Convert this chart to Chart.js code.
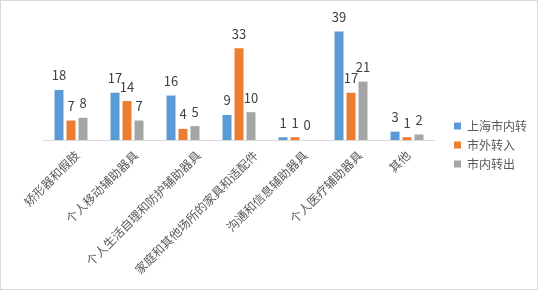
<!DOCTYPE html>
<html>
<head>
<meta charset="utf-8">
<script src="https://cdn.jsdelivr.net/npm/chart.js@4/dist/chart.umd.min.js"></script>
<style>
  html, body { margin: 0; padding: 0; background: #fff; }
  #wrap {
    width: 538px; height: 290px; box-sizing: border-box;
    border: 1px solid #d9d9d9; background: #fff;
  }
  canvas { display: block; }
</style>
</head>
<body>
<div id="wrap"><canvas id="chart" width="536" height="288"></canvas></div>
<script>
// ======================
// DATA
// ======================

const categories = [
    "矫形器和假肢",
    "个人移动辅助器具",
    "个人生活自理和防护辅助器具",
    "家庭和其他场所的家具和适配件",
    "沟通和信息辅助器具",
    "个人医疗辅助器具",
    "其他"
];

const seriesNames = ["上海市内转", "市外转入", "市内转出"];

const shInner = [18, 17, 16, 9, 1, 39, 3];
const fromOutside = [7, 14, 4, 33, 1, 17, 1];
const innerOut = [8, 7, 5, 10, 0, 21, 2];

const colors = ["#5b9bd5", "#ed7d31", "#a5a5a5"];

const FONT = "'Noto Sans CJK SC', 'Noto Sans', sans-serif";
const TEXT = "#595959";

// ======================
// VALUE LABELS
// ======================

const valueLabels = {
    id: "valueLabels",
    afterDatasetsDraw(chart) {
        const ctx = chart.ctx;
        ctx.save();
        ctx.font = "13px " + FONT;
        ctx.fillStyle = "#404040";
        ctx.textAlign = "center";
        ctx.textBaseline = "bottom";
        chart.data.datasets.forEach((ds, i) => {
            const meta = chart.getDatasetMeta(i);
            meta.data.forEach((bar, j) => {
                ctx.fillText(String(ds.data[j]), bar.x, bar.y - 8);
            });
        });
        ctx.restore();
    }
};

// ======================
// CATEGORY LABELS (rotated, Excel-like anchoring)
// ======================

const categoryLabels = {
    id: "categoryLabels",
    afterDraw(chart) {
        const ctx = chart.ctx;
        const xScale = chart.scales.x;
        ctx.save();
        ctx.font = "12px " + FONT;
        ctx.fillStyle = TEXT;
        ctx.textAlign = "right";
        ctx.textBaseline = "middle";
        chart.data.labels.forEach((label, i) => {
            const w = ctx.measureText(label).width;
            const x = xScale.getPixelForTick(i) + 1 + 0.11 * (w - 24);
            const y = xScale.top + 13;
            ctx.save();
            ctx.translate(x, y);
            ctx.rotate(-Math.PI / 4);
            ctx.fillText(label, 0, 0);
            ctx.restore();
        });
        ctx.restore();
    }
};

// ======================
// CHART
// ======================

new Chart(document.getElementById("chart"), {
    type: "bar",
    data: {
        labels: categories,
        datasets: [
            { label: seriesNames[0], data: shInner, backgroundColor: colors[0] },
            { label: seriesNames[1], data: fromOutside, backgroundColor: colors[1] },
            { label: seriesNames[2], data: innerOut, backgroundColor: colors[2] }
        ]
    },
    options: {
        responsive: false,
        animation: false,
        categoryPercentage: 0.643,
        barPercentage: 0.75,
        layout: {
            padding: { top: 0, left: 42, right: 0, bottom: 0 }
        },
        plugins: {
            legend: {
                position: "right",
                align: "center",
                maxWidth: 91,
                labels: {
                    boxWidth: 7,
                    boxHeight: 7,
                    padding: 7,
                    color: TEXT,
                    font: { family: FONT, size: 12 }
                }
            },
            tooltip: { enabled: false }
        },
        scales: {
            x: {
                grid: { display: false, drawTicks: false },
                border: { color: "#d9d9d9", width: 1 },
                ticks: { display: false },
                afterFit(scale) {
                    scale.height = 149;
                }
            },
            y: {
                position: "right",
                min: 0,
                max: 50,
                grid: { display: false },
                border: { display: false },
                ticks: { display: false },
                afterFit(scale) {
                    scale.width = 12;
                }
            }
        }
    },
    plugins: [valueLabels, categoryLabels]
});
</script>
</body>
</html>
